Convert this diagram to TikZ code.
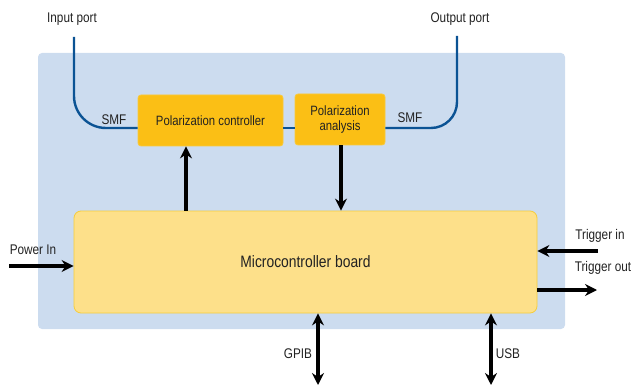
\documentclass[tikz,border=0pt]{standalone}
\usepackage{fontspec}
\setmainfont{Liberation Sans}[FakeStretch=0.84]
\usetikzlibrary{arrows.meta}
\definecolor{bgblue}{HTML}{CCDCEF}
\definecolor{boxorange}{HTML}{FBBF15}
\definecolor{boxedge}{HTML}{F9C93A}
\definecolor{mcfill}{HTML}{FDE08A}
\definecolor{mcedge}{HTML}{F6CD3C}
\definecolor{fiber}{HTML}{0B5394}
\definecolor{txt}{HTML}{222222}
\begin{document}
\begin{tikzpicture}[x=1pt,y=-1pt,
  lbl/.style={text=txt,font=\fontsize{14}{16}\selectfont,inner sep=0pt},
  pbox/.style={draw=boxedge,fill=boxorange,rounded corners=3pt,line width=0.8pt,text=txt,font=\fontsize{13.5}{15}\selectfont,align=center},
  fib/.style={draw=fiber,line width=2.4pt},
  sig/.style={line width=3.2pt,-{Stealth[length=12pt,width=12pt,inset=4pt]}},
  bsig/.style={line width=3.2pt,{Stealth[length=12pt,width=12pt,inset=4pt]}-{Stealth[length=12pt,width=12pt,inset=4pt]}}]
\useasboundingbox (0,0) rectangle (632,385);
\fill[bgblue,rounded corners=4pt] (38,53) rectangle (565,329);
\node[pbox,minimum width=145pt,minimum height=51pt] (pc) at (210.5,120.5) {Polarization controller};
\node[pbox,minimum width=90pt,minimum height=51pt,inner sep=0pt] (pa) at (340,119.5) {Polarization\\analysis};
\node[draw=mcedge,fill=mcfill,line width=0.8pt,rounded corners=7pt,minimum width=463pt,minimum height=102pt,text=txt,font=\fontsize{16.5}{18}\selectfont] (mc) at (305.5,262) {Microcontroller board};
% ports
\node[lbl] (inport) at (72,19) {Input port};
\node[lbl] (outport) at (460,19) {Output port};
\coordinate (inA) at (74,37);
\coordinate (outA) at (457,36);
\draw[fib,rounded corners=32pt] (inA) -- (74,128) -- (pc.west |- 0,128);
\draw[fib] (pc.east |- 0,128) -- (pa.west |- 0,128);
\draw[fib,rounded corners=26pt] (pa.east |- 0,128) -- (457,128) -- (outA);
\node[lbl] (smf1) at (114,120) {SMF};
\node[lbl] (smf2) at (410,118) {SMF};
% internal signals
\draw[sig] (mc.north -| 186,0) -- (pc.south -| 186,0);
\draw[sig] (pa.south -| 341,0) -- (mc.north -| 341,0);
% external
\coordinate (pw) at (9,266);
\draw[sig] (pw) -- (mc.west |- pw);
\node[lbl] (pwl) at (33,250) {Power In};
\coordinate (tin) at (598,251);
\draw[sig] (tin) -- (mc.east |- tin);
\node[lbl] (tinl) at (600,236) {Trigger in};
\coordinate (tout) at (597,290);
\draw[sig] (mc.east |- tout) -- (tout);
\node[lbl] (toutl) at (603,268) {Trigger out};
\coordinate (gp) at (318,385);
\draw[bsig] (mc.south -| gp) -- (gp);
\node[lbl] (gpl) at (298,354) {GPIB};
\coordinate (usb) at (491,385);
\draw[bsig] (mc.south -| usb) -- (usb);
\node[lbl] (usbl) at (508,354) {USB};
\end{tikzpicture}
\end{document}
